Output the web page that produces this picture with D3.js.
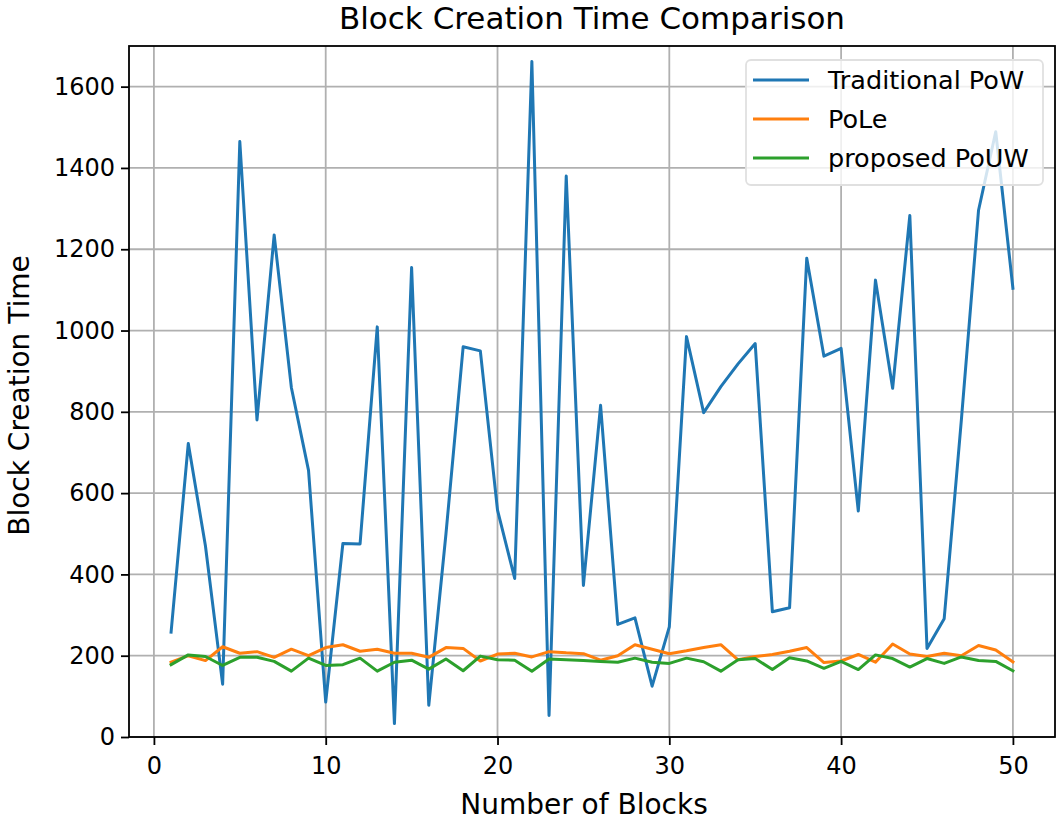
<!DOCTYPE html>
<html>
<head>
<meta charset="utf-8">
<script src="https://cdn.jsdelivr.net/npm/d3@7"></script>
<style>
  html, body { margin: 0; padding: 0; background: #fff; }
  svg { display: block; font-family: "DejaVu Sans", sans-serif; }
</style>
</head>
<body>
<svg id="chart" width="1062" height="822"></svg>
<script>
const blocks = d3.range(1, 51);
const traditionalPoW = [258, 722, 470, 130, 1465, 780, 1235, 860, 656, 86,
  476, 475, 1009, 33, 1155, 78, 500, 960, 950, 558,
  390, 1662, 53, 1380, 373, 816, 277, 293, 125, 271,
  985, 798, 862, 918, 968, 308, 318, 1178, 937, 956,
  556, 1124, 858, 1283, 218, 291, 780, 1296, 1489, 1104];
const pole = [184, 200, 188, 222, 206, 210, 196, 216, 200, 220,
  227, 211, 216, 206, 206, 196, 220, 218, 187, 204,
  206, 197, 210, 207, 205, 189, 200, 227, 216, 205,
  212, 220, 227, 190, 198, 203, 211, 220, 183, 187,
  203, 184, 229, 204, 198, 206, 200, 225, 214, 185];
const proposedPoUW = [178, 202, 198, 176, 196, 196, 186, 162, 194, 176,
  178, 194, 162, 184, 189, 167, 192, 163, 199, 190,
  189, 162, 192, 190, 188, 186, 184, 194, 184, 181,
  194, 185, 162, 190, 193, 166, 195, 187, 169, 186,
  166, 202, 193, 172, 193, 181, 197, 188, 186, 163];
const seriesNames = ["Traditional PoW", "PoLe", "proposed PoUW"];
const seriesColors = ["#1f77b4", "#ff7f0e", "#2ca02c"];
const xTicks = [0, 10, 20, 30, 40, 50];
const yTicks = [0, 200, 400, 600, 800, 1000, 1200, 1400, 1600];
const titleText = "Block Creation Time Comparison";
const xLabel = "Number of Blocks";
const yLabel = "Block Creation Time";

const svg = d3.select("#chart");
const L = 129, T = 46, R = 1055, B = 737;
const x = d3.scaleLinear().domain([-1.45, 52.45]).range([L, R]);
const y = d3.scaleLinear().domain([0, 1700]).range([B, T]);

// grid
const g = svg.append("g");
g.selectAll("line.gx").data(xTicks).join("line")
  .attr("x1", d => x(d)).attr("x2", d => x(d)).attr("y1", T).attr("y2", B)
  .attr("stroke", "#b0b0b0").attr("stroke-width", 1.8);
g.selectAll("line.gy").data(yTicks).join("line")
  .attr("x1", L).attr("x2", R).attr("y1", d => y(d)).attr("y2", d => y(d))
  .attr("stroke", "#b0b0b0").attr("stroke-width", 1.8);

// lines
const allSeries = [traditionalPoW, pole, proposedPoUW];
const line = d3.line().x((d, i) => x(blocks[i])).y(d => y(d));
allSeries.forEach((s, k) => {
  svg.append("path").datum(s).attr("d", line)
    .attr("fill", "none").attr("stroke", seriesColors[k])
    .attr("stroke-width", 3).attr("stroke-linejoin", "round").attr("stroke-linecap", "square");
});

// axes
const xAxis = d3.axisBottom(x).tickValues(xTicks).tickSize(8).tickPadding(6).tickFormat(d3.format("d"));
const yAxis = d3.axisLeft(y).tickValues(yTicks).tickSize(8).tickPadding(6).tickFormat(d3.format("d"));
const gx = svg.append("g").attr("transform", `translate(0,${B})`).call(xAxis);
const gy = svg.append("g").attr("transform", `translate(${L},0)`).call(yAxis);
[gx, gy].forEach(a => {
  a.select(".domain").remove();
  a.selectAll(".tick line").attr("stroke", "#000").attr("stroke-width", 1.8);
  a.selectAll(".tick text").attr("fill", "#000").style("font-size", "24px").style("font-family", "DejaVu Sans");
});
gx.selectAll(".tick text").attr("dy", "0.95em");

// frame
svg.append("rect").attr("x", L).attr("y", T).attr("width", R - L).attr("height", B - T)
  .attr("fill", "none").attr("stroke", "#000").attr("stroke-width", 1.8);

// title and labels
svg.append("text").attr("x", (L + R) / 2).attr("y", 29).attr("text-anchor", "middle")
  .style("font-size", "31px").text(titleText);
svg.append("text").attr("x", (L + R) / 2 - 8).attr("y", 814).attr("text-anchor", "middle")
  .style("font-size", "28px").text(xLabel);
svg.append("text").attr("transform", `translate(29,${(T + B) / 2 + 4}) rotate(-90)`).attr("text-anchor", "middle")
  .style("font-size", "28px").text(yLabel);

// legend
const lg = svg.append("g");
lg.append("rect").attr("x", 746).attr("y", 60).attr("width", 297).attr("height", 125)
  .attr("rx", 5).attr("fill", "#fff").attr("fill-opacity", 0.8).attr("stroke", "#e0e0e0").attr("stroke-width", 1.8);
seriesNames.forEach((n, k) => {
  const yy = 80 + k * 39;
  lg.append("line").attr("x1", 753).attr("x2", 809).attr("y1", yy).attr("y2", yy)
    .attr("stroke", seriesColors[k]).attr("stroke-width", 3);
  lg.append("text").attr("x", 828).attr("y", yy).attr("dy", "0.35em")
    .style("font-size", "25.5px").text(n);
});
</script>
</body>
</html>
